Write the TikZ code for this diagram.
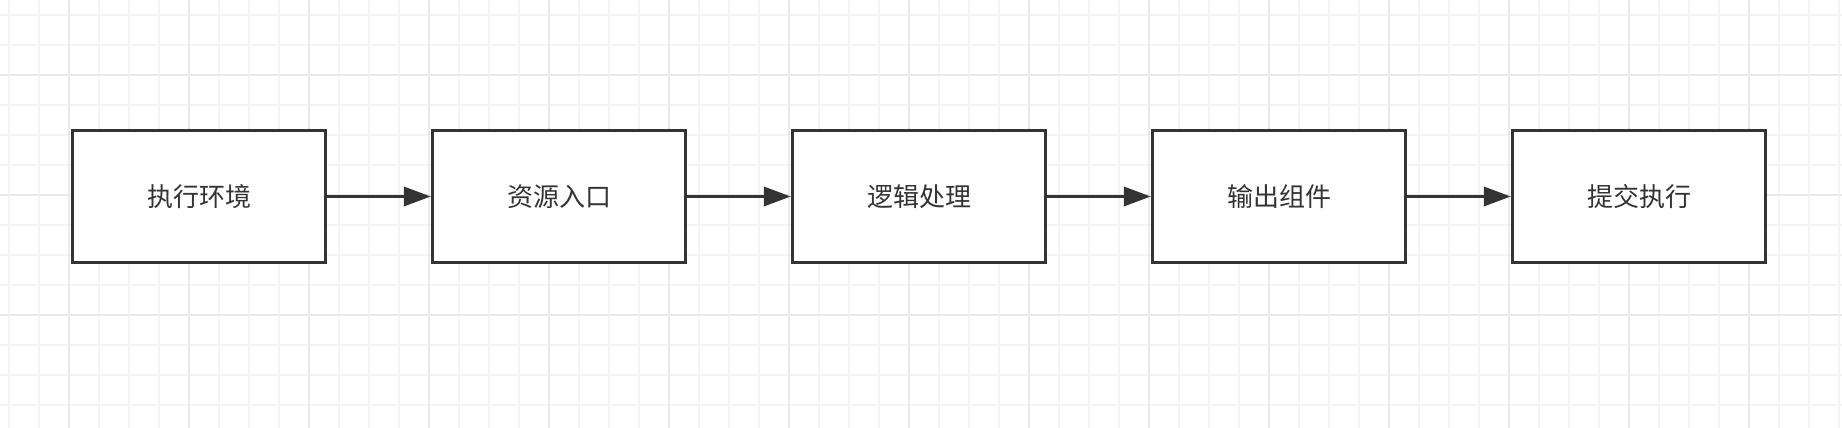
\documentclass[tikz,border=0pt]{standalone}
\usepackage{fontspec}
\usepackage{tikz}
\usetikzlibrary{arrows.meta}
\newfontfamily\cjk{Noto Sans CJK SC}
\definecolor{ink}{HTML}{333333}
\definecolor{minorgrid}{HTML}{F4F4F6}
\definecolor{majorgrid}{HTML}{EAEAEE}

\begin{document}
\begin{tikzpicture}[x=1pt, y=-1pt, node distance={360pt}, ink,
                    main/.style = {draw=ink, line width=3.4pt, fill=white, minimum width=253pt, minimum height=132pt, inner sep=0pt, font=\cjk\fontsize{26}{30}\selectfont, text=ink},
                    link/.style = {draw=ink, line width=3.6pt, -{Triangle[length=27pt,width=19pt]}}]
                  \useasboundingbox (0,0) rectangle (1842,428);
                  % grid
                  \fill[white] (0,0) rectangle (1842,428);
                  \foreach \x in {9,39,...,1839} \draw[minorgrid, line width=1.5pt] (\x,0) -- (\x,428);
                  \foreach \y in {15,45,...,405} \draw[minorgrid, line width=1.5pt] (0,\y) -- (1842,\y);
                  \foreach \x in {69,189,...,1749} \draw[majorgrid, line width=2pt] (\x,0) -- (\x,428);
                  \foreach \y in {75,195,315} \draw[majorgrid, line width=2pt] (0,\y) -- (1842,\y);
                  % steps
                  \node[main] (1) at (199,196.5) {执行环境};
                  \node[main] (2) [right of=1] {资源入口};
                  \node[main] (3) [right of=2] {逻辑处理};
                  \node[main] (4) [right of=3] {输出组件};
                  \node[main] (5) [right of=4] {提交执行};
                  \draw[link] (1) to (2);
                  \draw[link] (2) to (3);
                  \draw[link] (3) to (4);
                  \draw[link] (4) to (5);
              \end{tikzpicture}
\end{document}
